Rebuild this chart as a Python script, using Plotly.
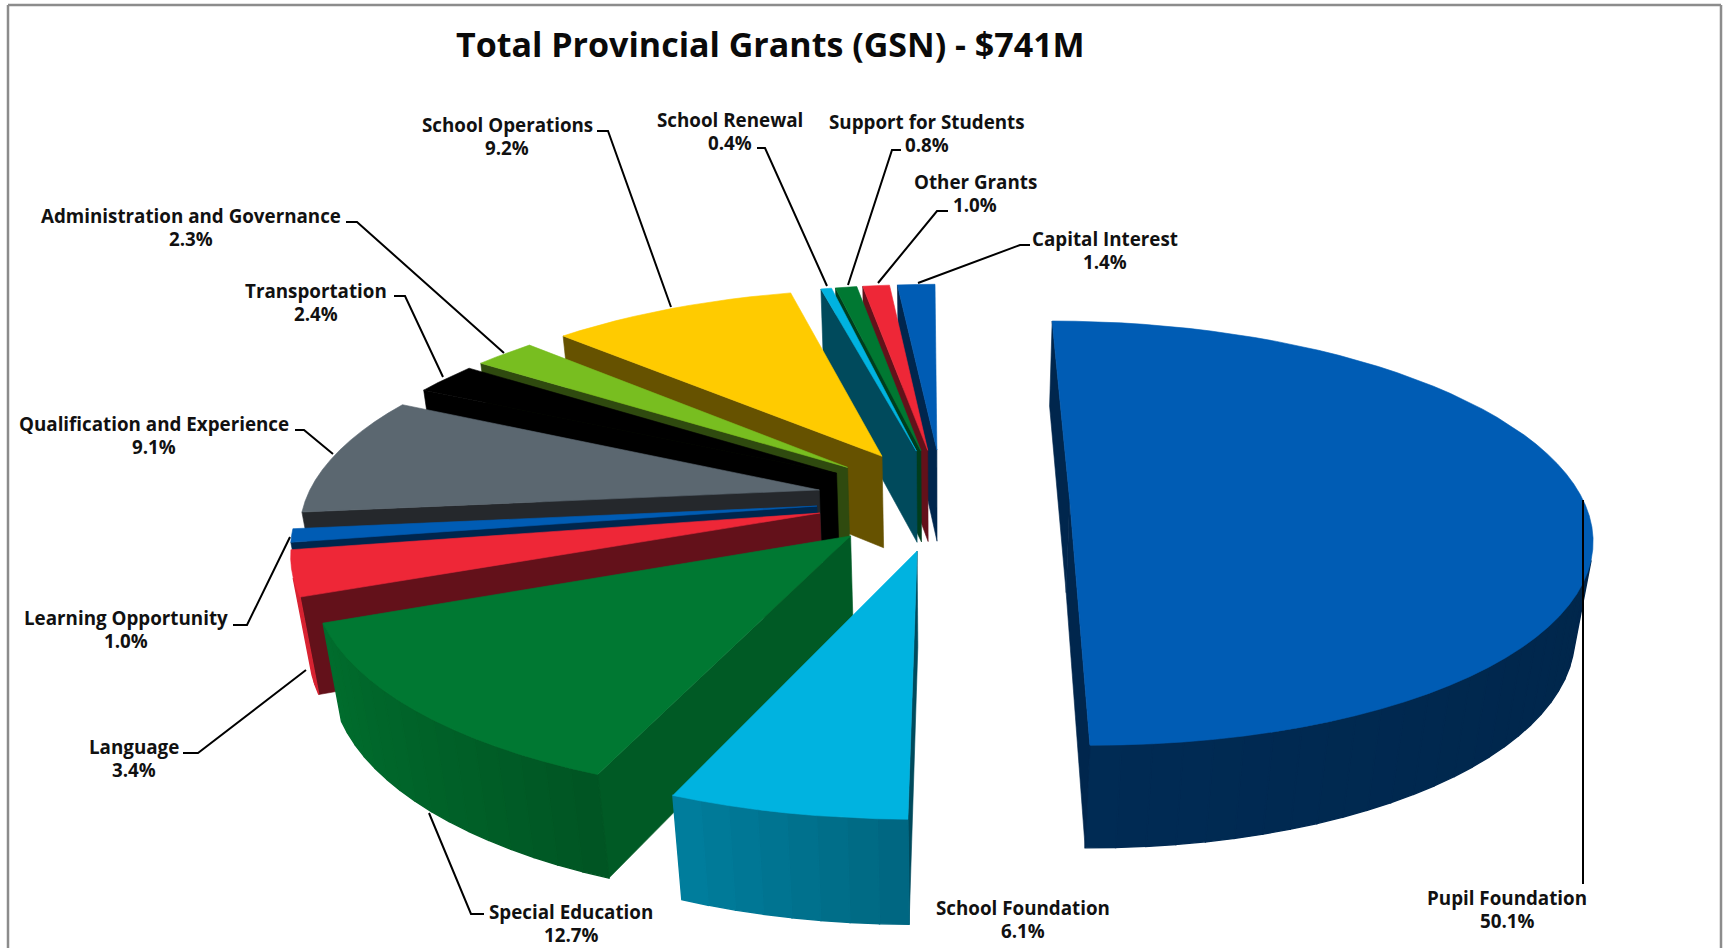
import numpy as np
import plotly.graph_objects as go

# Grant shares in percent, clockwise from twelve o'clock
categories = ["Pupil Foundation", "School Foundation", "Special Education", "Language",
              "Learning Opportunity", "Qualification and Experience", "Transportation",
              "Administration and Governance", "School Operations", "School Renewal",
              "Support for Students", "Other Grants", "Capital Interest"]
values = [50.1, 6.1, 12.7, 3.4, 1.0, 9.1, 2.4, 2.3, 9.2, 0.4, 0.8, 1.0, 1.4]
colors = ["#005CB4", "#00B3E0", "#007832", "#EE2737", "#005CB4", "#5B6770", "#000000",
          "#78BE20", "#FFCB00", "#00B3E0", "#007832", "#EE2737", "#005CB4"]
side_colors = ["#00264D", "#004A5C", "#005A25", "#63111A", "#00264D", "#25282C", "#000000",
               "#2F4A0F", "#665200", "#004A5C", "#003D1C", "#63111A", "#00264D"]
title = "Total Provincial Grants (GSN) - $741M"

# Projection of the exploded pie onto the page
W, H = 1723, 948
CX, CY = 943.0, 499.0      # page position of the unexploded centre
SX, SY = 513.0, 206.6      # horizontal and vertical scale of the unit disc
THICK = 96.0               # page height of the extrusion
PERSP_Y, PERSP_Z = 0.16, 0.028
PULL = 0.2468              # explosion distance in disc radii
STEP = np.radians(3.0)
LABEL_GAP = 23             # distance between the name and percentage lines

# Label centres and leader polylines in page pixels
label_xy = {
    "School Operations": (507, 136), "School Renewal": (730, 131),
    "Support for Students": (927, 133), "Other Grants": (975, 193),
    "Capital Interest": (1105, 250), "Administration and Governance": (191, 227),
    "Transportation": (316, 302), "Qualification and Experience": (154, 435),
    "Learning Opportunity": (126, 629), "Language": (134, 758),
    "Special Education": (571, 923), "School Foundation": (1023, 919),
    "Pupil Foundation": (1507, 909),
}
leaders = [
    [(597, 131), (608, 131), (671, 307)],
    [(757, 148), (765, 148), (827, 286)],
    [(901, 150), (892, 150), (848, 285)],
    [(948, 211), (937, 211), (878, 283)],
    [(1030, 245), (1020, 245), (918, 283)],
    [(346, 222), (357, 222), (504, 353)],
    [(394, 296), (405, 296), (443, 377)],
    [(295, 430), (304, 430), (333, 454)],
    [(233, 625), (247, 625), (290, 537)],
    [(183, 753), (198, 753), (306, 670)],
    [(429, 813), (471, 914), (484, 914)],
    [(1583, 500), (1583, 884)],
]


def project(gx, gy, h=0.0):
    """Map disc coordinates (gy pointing away) at depth h below the top face to the page."""
    s = 1.0 / (1.0 + PERSP_Y * gy + PERSP_Z * h)
    return CX + SX * gx * s, CY + (-SY * gy + THICK * h) * s


def shade(base, f):
    rgb = [int(base[i:i + 2], 16) for i in (1, 3, 5)]
    return "rgb({},{},{})".format(*[int(min(255, c * f)) for c in rgb])


def wall_factor(theta):
    s = np.sin(theta)
    return 0.47 - 0.05 * s if s > 0 else 0.57 + 0.36 * (-s)


def add_poly(fig, xs, ys, color, width=0.6):
    fig.add_trace(go.Scatter(x=list(xs) + [xs[0]], y=list(ys) + [ys[0]], mode="lines",
                             fill="toself", fillcolor=color,
                             line=dict(color=color, width=width),
                             hoverinfo="skip", showlegend=False))


def draw_wedge(fig, t0, t1, base, side):
    mid = (t0 + t1) / 2
    ox, oy = PULL * np.sin(mid), PULL * np.cos(mid)
    n = max(1, int(np.ceil((t1 - t0) / STEP)))
    ang = np.linspace(t0, t1, n + 1)
    gx = np.r_[ox, ox + np.sin(ang)]
    gy = np.r_[oy, oy + np.cos(ang)]
    tx, ty = project(gx, gy, 0.0)
    bx, by = project(gx, gy, 1.0)
    m = len(gx)
    for i in range(m):
        j = (i + 1) % m
        qx = [tx[i], tx[j], bx[j], bx[i]]
        qy = [ty[i], ty[j], by[j], by[i]]
        area = sum(qx[k] * qy[(k + 1) % 4] - qx[(k + 1) % 4] * qy[k] for k in range(4))
        if area >= 0:
            continue  # faces away from the viewer
        if i == 0 or j == 0:
            add_poly(fig, qx, qy, side)
        else:
            col = shade(base, wall_factor((ang[i - 1] + ang[j - 1]) / 2))
            add_poly(fig, qx, qy, col, width=1.4)  # wide enough to close the strip seams
    add_poly(fig, tx, ty, base)


fig = go.Figure()

total = 100.0
edges = np.radians(np.r_[0.0, np.cumsum(values)] * 360.0 / total)
# Painter's order: farthest slices first
for i in sorted(range(len(values)), key=lambda i: -np.cos((edges[i] + edges[i + 1]) / 2)):
    draw_wedge(fig, edges[i], edges[i + 1], colors[i], side_colors[i])

for name, val in zip(categories, values):
    x, y = label_xy[name]
    for text, yy in ((name, y - LABEL_GAP / 2), (f"{val:.1f}%", y + LABEL_GAP / 2)):
        fig.add_annotation(x=x, y=yy, xref="x", yref="y", showarrow=False,
                           text=f"<b>{text}</b>",
                           font=dict(family="Open Sans", size=18.8, color="#111111"))

fig.add_annotation(x=770, y=44, xref="x", yref="y", showarrow=False,
                   text=f"<b>{title}</b>",
                   font=dict(family="Open Sans", size=34, color="#0a0a0a"))

shapes = []
for pts in leaders:
    path = "M " + " L ".join(f"{x} {y}" for x, y in pts)
    shapes.append(dict(type="path", path=path, xref="x", yref="y",
                       line=dict(color="#000000", width=2)))
# Chart frame
for x0, y0, x1, y1 in [(8, 5, 1721, 5), (8, 5, 8, 948), (1721, 5, 1721, 948)]:
    shapes.append(dict(type="line", x0=x0, y0=y0, x1=x1, y1=y1, xref="x", yref="y",
                       line=dict(color="#8c8c8c", width=2.5)))

fig.update_layout(
    width=W, height=H, margin=dict(l=0, r=0, t=0, b=0),
    paper_bgcolor="white", plot_bgcolor="white", showlegend=False, shapes=shapes,
    xaxis=dict(range=[0, W], visible=False, fixedrange=True),
    yaxis=dict(range=[H, 0], visible=False, fixedrange=True),
)
fig.write_html("out.html")
